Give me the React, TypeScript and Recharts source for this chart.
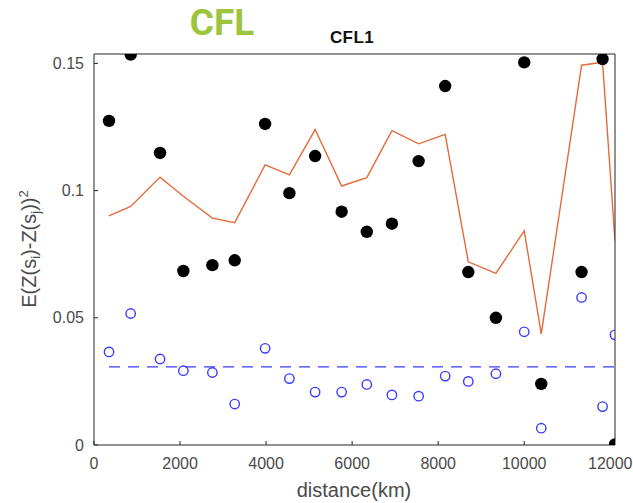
import React from 'react';
import { ComposedChart, XAxis, YAxis, Line, Scatter } from 'recharts';

const distances = [349, 853, 1535, 2077, 2752, 3271, 3977, 4542, 5140, 5756, 6341, 6925, 7546, 8163, 8700, 9342, 10000, 10396, 11333, 11821, 12110];
const empirical = [0.1274, 0.1535, 0.1148, 0.0684, 0.0707, 0.0726, 0.1262, 0.099, 0.1136, 0.0917, 0.0838, 0.087, 0.1116, 0.1411, 0.068, 0.05, 0.1504, 0.024, 0.068, 0.1517, 0.0002];
const simulated = [0.0366, 0.0517, 0.0338, 0.0292, 0.0285, 0.0161, 0.038, 0.0261, 0.0208, 0.0208, 0.0238, 0.0197, 0.0192, 0.0271, 0.025, 0.028, 0.0445, 0.0066, 0.058, 0.0151, 0.0433];
const envelope = [0.0901, 0.0938, 0.1053, 0.0978, 0.0892, 0.0874, 0.1101, 0.1062, 0.124, 0.1018, 0.1051, 0.1236, 0.1184, 0.1221, 0.072, 0.0675, 0.0842, 0.0437, 0.1493, 0.1504, 0.0803];
const meanLevel = 0.0307;

const xTicks = [0, 2000, 4000, 6000, 8000, 10000, 12000];
const yTicks = [0, 0.05, 0.1, 0.15];
const xDomain = [0, 12110];
const yDomain = [0, 0.1537];

const data = distances.map((x, i) => ({
  x,
  emp: empirical[i],
  sim: simulated[i],
  env: envelope[i],
  mean: meanLevel,
}));

const AX = '#262626';
const TICK = '#4a4a4a';
const FONT = '"Liberation Sans", Arial, Helvetica, sans-serif';

const BlackDot = (p: any) => <circle cx={p.cx} cy={p.cy} r={6.2} fill="#000" />;
const BlueDot = (p: any) => (
  <circle cx={p.cx} cy={p.cy} r={4.7} fill="none" stroke="#3b3bff" strokeWidth={1.4} />
);

const fmtY = (v: number) => (v === 0 ? '0' : String(v));

export default function App() {
  return (
    <div style={{ position: 'absolute', left: 0, top: 0, width: 633, height: 503, background: '#fff' }}>
      <ComposedChart
        width={633}
        height={503}
        data={data}
        margin={{ top: 24, right: 0, bottom: 0, left: 0 }}
      >
        <XAxis
          dataKey="x"
          type="number"
          domain={xDomain}
          ticks={xTicks}
          allowDataOverflow
          height={58}
          tickSize={-4}
          tickMargin={17}
          axisLine={{ stroke: AX, strokeWidth: 1 }}
          tickLine={{ stroke: AX }}
          tick={{ fill: TICK, fontSize: 16, fontFamily: FONT }}
          interval={0}
        />
        <XAxis
          xAxisId="top"
          orientation="top"
          type="number"
          domain={xDomain}
          ticks={xTicks}
          allowDataOverflow
          height={30}
          tickSize={-4}
          tick={false}
          axisLine={{ stroke: AX, strokeWidth: 1 }}
          tickLine={{ stroke: AX }}
          interval={0}
        />
        <YAxis
          type="number"
          domain={yDomain}
          ticks={yTicks}
          allowDataOverflow
          width={94}
          tickSize={-4}
          tickMargin={14}
          tickFormatter={fmtY}
          axisLine={{ stroke: AX, strokeWidth: 1 }}
          tickLine={{ stroke: AX }}
          tick={{ fill: TICK, fontSize: 16, fontFamily: FONT }}
          interval={0}
        />
        <YAxis
          yAxisId="right"
          orientation="right"
          type="number"
          domain={yDomain}
          ticks={yTicks}
          allowDataOverflow
          width={18}
          tickSize={-4}
          tick={false}
          axisLine={{ stroke: AX, strokeWidth: 1 }}
          tickLine={{ stroke: AX }}
          interval={0}
        />
        <Line
          dataKey="env"
          type="linear"
          stroke="#e46b3a"
          strokeWidth={1.4}
          dot={false}
          isAnimationActive={false}
        />
        <Line
          dataKey="mean"
          type="linear"
          stroke="#3b3bff"
          strokeWidth={1.4}
          strokeDasharray="11 8"
          dot={false}
          isAnimationActive={false}
        />
        <Scatter dataKey="sim" shape={BlueDot} isAnimationActive={false} />
        <Scatter dataKey="emp" shape={BlackDot} isAnimationActive={false} />
      </ComposedChart>
      <svg
        width={633}
        height={503}
        style={{ position: 'absolute', left: 0, top: 0, pointerEvents: 'none' }}
      >
        <text
          x={222}
          y={35}
          textAnchor="middle"
          fill="#9cc43c"
          fontFamily='Roboto, "Open Sans", sans-serif'
          fontWeight={700}
          fontSize={37}
        >
          CFL
        </text>
        <text
          x={352}
          y={43}
          textAnchor="middle"
          fill="#111"
          fontFamily={FONT}
          fontWeight={700}
          fontSize={17}
          letterSpacing={0.4}
        >
          CFL1
        </text>
        <text
          x={354}
          y={497}
          textAnchor="middle"
          fill={TICK}
          fontFamily={FONT}
          fontSize={20}
        >
          distance(km)
        </text>
        <text
          transform="translate(36,249) rotate(-90)"
          textAnchor="middle"
          fill={TICK}
          fontFamily={FONT}
          fontSize={20}
        >
          E(Z(s<tspan fontSize={13} dy={4}>i</tspan>
          <tspan dy={-4}>)-Z(s</tspan>
          <tspan fontSize={13} dy={4}>j</tspan>
          <tspan dy={-4}>))</tspan>
          <tspan fontSize={13} dy={-8}>2</tspan>
        </text>
      </svg>
    </div>
  );
}
